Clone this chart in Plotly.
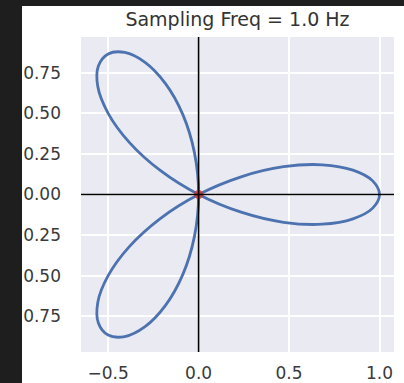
import plotly.graph_objects as go

# Curve points (three-petal rose)
curve_x = [1.000, 0.962, 0.853, 0.683, 0.470, 0.235, 0.000, -0.212, -0.383, -0.500,
           -0.557, -0.554, -0.500, -0.408, -0.296, -0.183, -0.087, -0.023, 0.000,
           -0.023, -0.087, -0.183, -0.296, -0.408, -0.500, -0.554, -0.557, -0.500,
           -0.383, -0.212, 0.000, 0.235, 0.470, 0.683, 0.853, 0.962, 1.000]
curve_y = [0.000, 0.084, 0.150, 0.183, 0.171, 0.109, 0.000, -0.148, -0.321, -0.500,
           -0.663, -0.791, -0.866, -0.875, -0.814, -0.683, -0.492, -0.258, 0.000,
           0.258, 0.492, 0.683, 0.814, 0.875, 0.866, 0.791, 0.663, 0.500,
           0.321, 0.148, 0.000, -0.109, -0.171, -0.183, -0.150, -0.084, 0.000]
origin_x = [0.0]
origin_y = [0.0]

x_ticks = [-0.5, 0.0, 0.5, 1.0]
x_labels = ["\u22120.5", "0.0", "0.5", "1.0"]
y_ticks = [0.75, 0.5, 0.25, 0.0, -0.25, -0.5, -0.75]
y_labels = ["0.75", "0.50", "0.25", "0.00", "\u22120.25", "\u22120.50", "\u22120.75"]
title_text = "Sampling Freq = 1.0 Hz"

W, H = 404, 383
L, R, T, B = 81, 10, 37, 31
pw, ph = W - L - R, H - T - B

fig = go.Figure()
fig.add_trace(go.Scatter(x=curve_x, y=curve_y, mode="lines",
                         line=dict(color="#4C72B0", width=2.8, shape="spline", smoothing=1.0),
                         hoverinfo="skip", showlegend=False))
fig.add_trace(go.Scatter(x=origin_x, y=origin_y, mode="markers",
                         marker=dict(color="rgba(214,50,50,0.85)", size=9, line=dict(width=0)),
                         showlegend=False))

# black reference lines at x=0 and y=0
fig.add_shape(type="line", xref="x", yref="paper", x0=0, x1=0, y0=0, y1=1,
              line=dict(color="black", width=1.6))
fig.add_shape(type="line", xref="paper", yref="y", x0=0, x1=1, y0=0, y1=0,
              line=dict(color="black", width=1.6))

# dark screenshot border (left and top strips)
def px_x(p):
    return (p - L) / pw

def px_y(p):
    return 1 + (T - p) / ph

fig.add_shape(type="rect", xref="paper", yref="paper", x0=px_x(0), x1=px_x(22),
              y0=px_y(H), y1=px_y(0), fillcolor="#1e1e1e", line=dict(width=0), layer="above")
fig.add_shape(type="rect", xref="paper", yref="paper", x0=px_x(0), x1=px_x(W),
              y0=px_y(6), y1=px_y(0), fillcolor="#1e1e1e", line=dict(width=0), layer="above")

fig.update_layout(
    width=W, height=H,
    margin=dict(l=L, r=R, t=T, b=B, autoexpand=False),
    paper_bgcolor="white", plot_bgcolor="#EAEAF2",
    font=dict(family="DejaVu Sans", color="#3a3a3a", size=17),
    title=dict(text=title_text, x=0.5, xref="paper", xanchor="center",
               y=1 - 19 / H, yref="container", yanchor="middle",
               font=dict(size=19, color="#333333")),
    showlegend=False,
)
fig.update_xaxes(range=[-0.65, 1.08], tickvals=x_ticks, ticktext=x_labels,
                 showgrid=True, gridcolor="white", gridwidth=1.6, zeroline=False,
                 showline=False, ticks="", ticklabelstandoff=9, automargin=False)
fig.update_yaxes(range=[-0.97, 0.97], tickvals=y_ticks, ticktext=y_labels,
                 showgrid=True, gridcolor="white", gridwidth=1.6, zeroline=False,
                 showline=False, ticks="", ticklabelstandoff=19, automargin=False)

fig.write_html("out.html", config={"displayModeBar": False},
               post_script="document.body.style.margin='0';document.body.style.overflow='hidden';")
